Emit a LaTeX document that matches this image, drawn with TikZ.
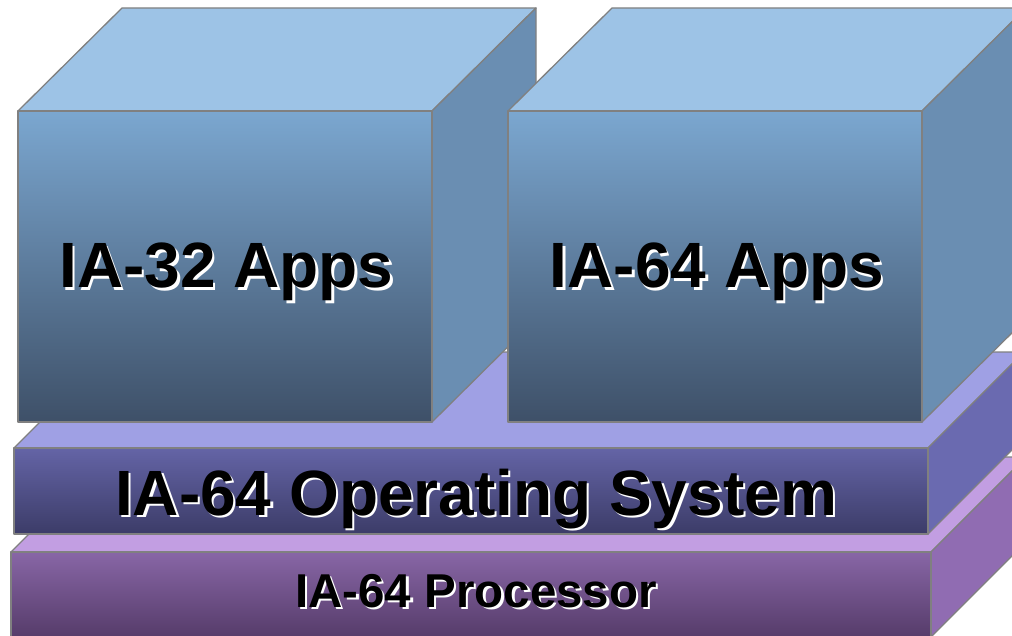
\documentclass[tikz,border=0pt]{standalone}
\usepackage{fontspec}
\setmainfont{Liberation Sans}
\definecolor{bordergray}{RGB}{128,128,128}
\definecolor{apptop}{RGB}{157,195,230}
\definecolor{appside}{RGB}{106,142,178}
\definecolor{appfronttop}{RGB}{123,167,208}
\definecolor{appfrontbot}{RGB}{62,80,104}
\definecolor{ostop}{RGB}{159,160,228}
\definecolor{osside}{RGB}{106,106,176}
\definecolor{osfronttop}{RGB}{100,100,166}
\definecolor{osfrontbot}{RGB}{60,60,104}
\definecolor{cputop}{RGB}{194,158,226}
\definecolor{cpuside}{RGB}{144,108,178}
\definecolor{cpufronttop}{RGB}{136,102,166}
\definecolor{cpufrontbot}{RGB}{86,60,106}
\begin{document}
\begin{tikzpicture}[x=1pt,y=-1pt,
  edge/.style={draw=bordergray, line width=1.3pt, line join=round},
  bigtxt/.style={font=\bfseries\fontsize{64}{64}\selectfont, anchor=base, inner sep=0pt},
  smalltxt/.style={font=\bfseries\fontsize{47.5}{47.5}\selectfont, anchor=base, inner sep=0pt},
  shadowtxt/.style={text=white},
  maintxt/.style={text=black}]
\useasboundingbox (0,0) rectangle (1012,636);
\clip (0,0) rectangle (1012,636);
% ---- Processor slab ----
\path[edge, fill=cputop] (11,552) -- (106,457) -- (1026,457) -- (931,552) -- cycle;
\path[edge, fill=cpuside] (931,552) -- (1026,457) -- (1026,542) -- (931,637) -- cycle;
\path[edge, top color=cpufronttop, bottom color=cpufrontbot] (11,552) rectangle (931,637);
% ---- OS slab ----
\path[edge, fill=ostop] (14,448) -- (110,352) -- (1024,352) -- (928,448) -- cycle;
\path[edge, fill=osside] (928,448) -- (1024,352) -- (1024,438) -- (928,534) -- cycle;
\path[edge, top color=osfronttop, bottom color=osfrontbot] (14,448) rectangle (928,534);
% ---- IA-32 box ----
\path[edge, fill=apptop] (18,111) -- (122,8) -- (536,8) -- (432,111) -- cycle;
\path[edge, fill=appside] (432,111) -- (536,8) -- (536,319) -- (432,422) -- cycle;
\path[edge, top color=appfronttop, bottom color=appfrontbot] (18,111) rectangle (432,422);
% ---- IA-64 box ----
\path[edge, fill=apptop] (508,111) -- (612,8) -- (1026,8) -- (922,111) -- cycle;
\path[edge, fill=appside] (922,111) -- (1026,8) -- (1026,319) -- (922,422) -- cycle;
\path[edge, top color=appfronttop, bottom color=appfrontbot] (508,111) rectangle (922,422);
% ---- Labels ----
\node[bigtxt, shadowtxt] (a32s) at (229,290.5) {IA-32 Apps};
\node[bigtxt, maintxt] (a32) at (226.5,288) {IA-32 Apps};
\node[bigtxt, shadowtxt] (a64s) at (719.5,290.5) {IA-64 Apps};
\node[bigtxt, maintxt] (a64) at (717,288) {IA-64 Apps};
\node[bigtxt, shadowtxt] (oss) at (478.5,517.5) {IA-64 Operating System};
\node[bigtxt, maintxt] (os) at (476,515) {IA-64 Operating System};
\node[smalltxt, shadowtxt] (cpus) at (478.5,609.5) {IA-64 Processor};
\node[smalltxt, maintxt] (cpu) at (476,607) {IA-64 Processor};
\end{tikzpicture}
\end{document}
